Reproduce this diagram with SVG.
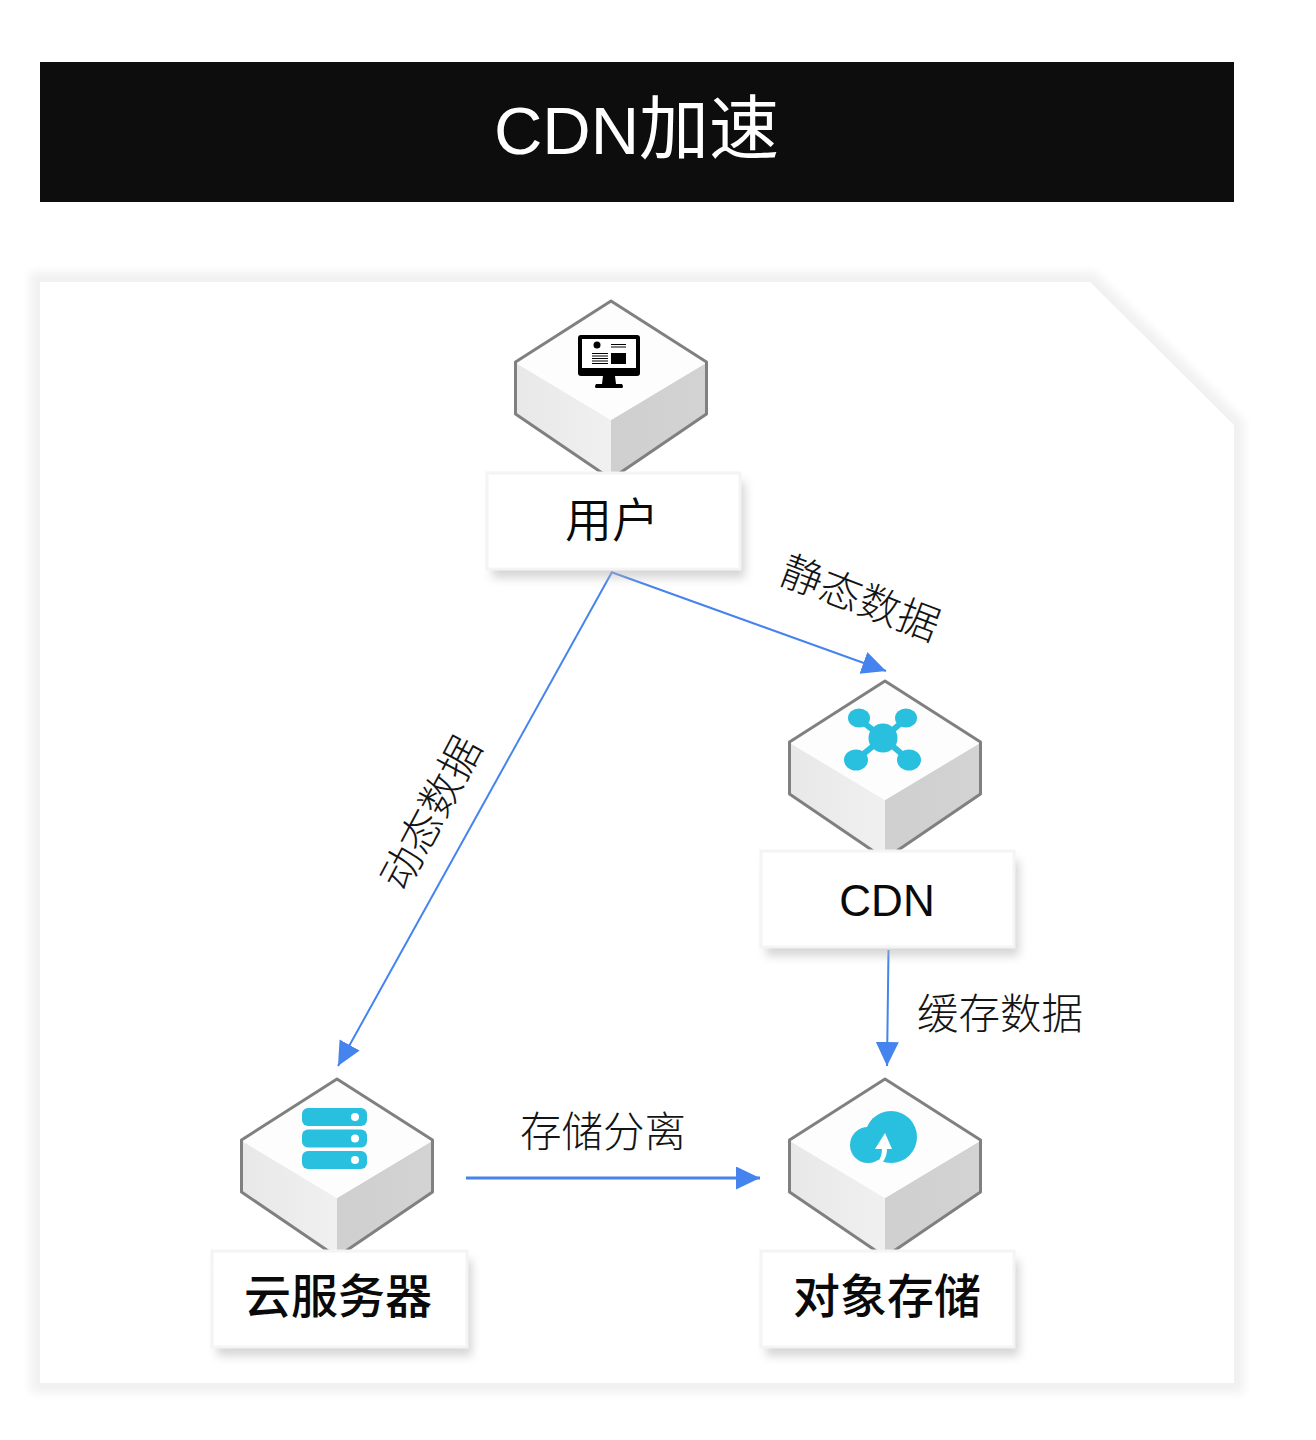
<svg xmlns="http://www.w3.org/2000/svg" xmlns:xlink="http://www.w3.org/1999/xlink" width="1316" height="1440" viewBox="0 0 1316 1440">
<style>
text{font-family:"Noto Sans CJK SC","Noto Sans",sans-serif;fill:#0a0a0a;text-anchor:middle}
.lat{font-family:"Liberation Sans",Arimo,sans-serif}
.lbl{font-size:47px;font-weight:350}
.lblb{font-size:47px;font-weight:500}
.edge{font-size:41.500px;fill:#141414;font-weight:300}
.ic{fill:#29bfdf}
.conn{fill:none;stroke:#4583ee;stroke-width:2}
.box{fill:#fff;stroke:#f4f4f4;stroke-width:3}
</style>
<defs>
<linearGradient id="gl" x1="0" y1="0" x2="1" y2="0"><stop offset="0" stop-color="#e8e8e8"/><stop offset="1" stop-color="#f0f0f0"/></linearGradient>
<linearGradient id="gr" x1="0" y1="0" x2="1" y2="0"><stop offset="0" stop-color="#cfcfcf"/><stop offset="1" stop-color="#d3d3d3"/></linearGradient>
<filter id="ps" x="-5%" y="-5%" width="110%" height="110%"><feGaussianBlur stdDeviation="5"/></filter>
<filter id="bs" x="-15%" y="-25%" width="130%" height="150%"><feGaussianBlur stdDeviation="5"/></filter>
<filter id="soft" x="-5%" y="-5%" width="110%" height="110%"><feGaussianBlur stdDeviation="0.500"/></filter>
<marker id="ah" markerUnits="userSpaceOnUse" markerWidth="26" markerHeight="24" refX="24" refY="11.5" orient="auto"><path d="M0 0L24 11.5L0 23Z" fill="#4583ee"/></marker>
<g id="cube" filter="url(#soft)">
<path d="M0 0L-96 61V113L0 178L96 113V61Z" fill="#fff"/>
<path d="M-95 62L0 119V178L-95 113Z" fill="url(#gl)"/>
<path d="M95 62L0 119V178L95 113Z" fill="url(#gr)"/>
<path d="M0 0L-95 62L0 119L95 62Z" fill="#fdfdfd"/>
<path d="M0 0L-95.500 61V113L0 178L95.500 113V61Z" fill="none" stroke="#808080" stroke-width="3" stroke-linejoin="round"/>
</g>
<g id="labelbox">
<rect x="5" y="9" width="253" height="96" fill="#b4b4b4" opacity=".55" filter="url(#bs)"/>
<rect x="0" y="0" width="253" height="96" class="box"/>
</g>
<g id="labelbox-wide">
<rect x="5" y="9" width="255" height="96" fill="#b4b4b4" opacity=".55" filter="url(#bs)"/>
<rect x="0" y="0" width="255" height="96" class="box"/>
</g>
</defs>
<rect width="1316" height="1440" fill="#fff"/>
<g id="title">
<rect x="40" y="62" width="1194" height="140" fill="#0d0d0d"/>
<text x="636.500" y="154" font-size="70" style="fill:#fff"><tspan class="lat" font-size="67">CDN</tspan>加速</text>
</g>
<g id="panel">
<path d="M40 282H1090L1234 425V1383H40Z" fill="none" stroke="#f1f1f1" stroke-width="20" filter="url(#ps)"/>
<path d="M40 282H1090L1234 425V1383H40Z" fill="#fff"/>
</g>
<g id="connectors">
<path class="conn" d="M611 572L886 671" marker-end="url(#ah)"/>
<path class="conn" d="M612 572L338 1066" marker-end="url(#ah)"/>
<path class="conn" d="M888.500 950L887 1066" marker-end="url(#ah)"/>
<path class="conn" style="stroke-width:3" d="M466 1178H760" marker-end="url(#ah)"/>
<text class="edge" transform="translate(855 612) rotate(21)">静态数据</text>
<text class="edge" transform="translate(444 820) rotate(-62)">动态数据</text>
<text class="edge" x="1000" y="1029">缓存数据</text>
<text class="edge" x="603" y="1147">存储分离</text>
</g>
<g id="node-user">
<use href="#cube" x="611" y="301"/>
<use href="#labelbox" x="487" y="473"/>
<text class="lbl" x="612" y="537">用户</text>
<g id="icon-monitor">
<rect x="578" y="335" width="62" height="41" rx="3" fill="#000"/>
<rect x="582" y="339" width="54" height="29" fill="#fff"/>
<circle cx="597" cy="345" r="3.500" fill="#000"/>
<path d="M611 344.500H626M611 347H626M592 353.500H608M592 356H608M592 358.500H608M592 361H608M592 363.500H608" stroke="#000" stroke-width="1.200"/>
<rect x="611" y="353" width="15" height="11" fill="#000"/>
<path d="M603 376H615L616 384H622Q624 387 622 388H596Q594 387 596 384H602Z" fill="#000"/>
</g>
</g>
<g id="node-cdn">
<use href="#cube" x="885" y="681"/>
<use href="#labelbox" x="761" y="851"/>
<text class="lbl lat" x="887" y="916" style="font-size:44px;font-weight:400;font-family:'Liberation Sans',sans-serif">CDN</text>
<g id="icon-hub" class="ic">
<path d="M859 719L883 738M906 719L883 738M856 760L883 738M909 760L883 738" stroke="#29bfdf" stroke-width="6"/>
<circle cx="883" cy="738" r="14.500"/>
<ellipse cx="859" cy="718" rx="11" ry="9.500"/>
<ellipse cx="906" cy="718" rx="11" ry="9.500"/>
<ellipse cx="856" cy="760" rx="12" ry="10.500"/>
<ellipse cx="909" cy="760" rx="12" ry="10.500"/>
</g>
</g>
<g id="node-server">
<use href="#cube" x="337" y="1079"/>
<use href="#labelbox-wide" x="212" y="1251"/>
<text class="lblb" x="338" y="1313">云服务器</text>
<g id="icon-server">
<rect class="ic" x="302" y="1108" width="65" height="18" rx="6"/>
<rect class="ic" x="302" y="1129.500" width="65" height="18" rx="6"/>
<rect class="ic" x="302" y="1151" width="65" height="18" rx="6"/>
<circle cx="355" cy="1117" r="4" fill="#fff"/>
<circle cx="355" cy="1138.500" r="4" fill="#fff"/>
<circle cx="355" cy="1160" r="4" fill="#fff"/>
</g>
</g>
<g id="node-oss">
<use href="#cube" x="885" y="1079"/>
<use href="#labelbox" x="761" y="1251"/>
<text class="lblb" x="887" y="1313">对象存储</text>
<g id="icon-cloud">
<circle cx="891" cy="1137" r="26" class="ic"/>
<circle cx="868" cy="1145" r="18" class="ic"/>
<path d="M885 1133L892 1149H887Q887 1157 882 1163H877Q882 1157 882 1149H875Z" fill="#fff"/>
</g>
</g>
</svg>
